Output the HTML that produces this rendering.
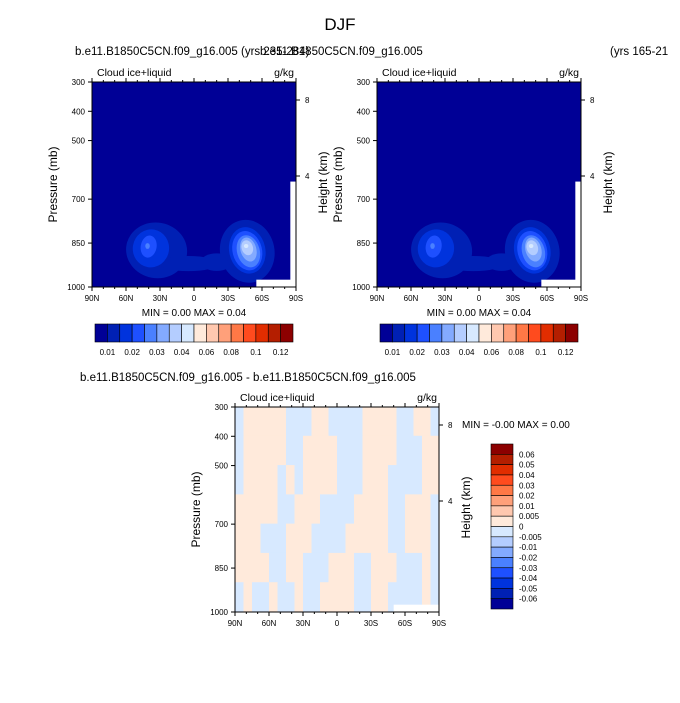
<!DOCTYPE html>
<html><head><meta charset="utf-8"><style>
body{margin:0;background:#fff;}
svg text{font-family:"Liberation Sans",sans-serif;fill:#000;}
</style></head><body>
<svg id="s" width="680" height="698" xmlns="http://www.w3.org/2000/svg">
<text x="340" y="30" font-size="17" text-anchor="middle">DJF</text>
</svg>
<script>
const fills=["#000096","#0020b4","#0033dd","#1e50ff","#4a80ff","#83aaff","#b4cdff","#d7e9ff","#ffeadb","#ffc8af","#ffa07a","#ff7846","#ff4b1e","#e12d00","#b41e00","#8c0000"];
const topLevels=["0.01","0.02","0.03","0.04","0.06","0.08","0.1","0.12"];
const diffLevels=["0.06","0.05","0.04","0.03","0.02","0.01","0.005","0","-0.005","-0.01","-0.02","-0.03","-0.04","-0.05","-0.06"];
const pTicks=[300,400,500,700,850,1000];
const latTicks=[90,60,30,0,-30,-60,-90];
const latLabels=["90N","60N","30N","0","30S","60S","90S"];
// blob contours: level index, center lat, center pressure, radius lat (deg), radius pressure (mb), tilt
const blobLevel=[1,1,1,2,3,4,1,1,2,3,4,5,6,7];
const blobLat=[33,5,-20,38,40,41,-47,-47,-47,-47,-48,-48,-47,-46];
const blobP=[875,920,915,868,862,860,878,878,875,876,878,872,866,860];
const blobRLat=[27,26,14,16,7,2,24,19,16,13,10,7,5,2];
const blobRP=[95,26,30,65,38,10,108,92,80,68,56,42,26,7];
const blobTilt=[10,0,0,10,10,0,-12,-12,-12,-14,-16,-16,-18,0];
// difference sign grid: rows = pressure bands, cols = 24 lat bins (90N->90S), p = positive, b = negative
const diffP=[300,400,500,600,700,800,900,1000];
const diffRows=["bpppppbbbppbbbbppppbbppb","bpppppbbppppbbbppppbbbpp","bppppbpbppppbbbpppbbbbpp","pppppbbpppbbbbppppbbpppb","pppbbbpppbbbbpppppbbpppb","ppppbbppbbbpppbbpppbbbpb","bpbbpbbpbbppppbbppbbbbpb"];
const NS="http://www.w3.org/2000/svg";
const svg=document.getElementById('s');
function mk(t,a,p){const e=document.createElementNS(NS,t);for(const k in a)e.setAttribute(k,a[k]);(p||svg).appendChild(e);return e;}
function txt(x,y,s,sz,anc,p){const e=mk('text',{x:x,y:y,'font-size':sz,'text-anchor':anc||'start'},p);e.textContent=s;return e;}
function panel(ox,oy,kind,name){
  const W=204,H=205;
  const g=mk('g',{});
  
  
  const xs=lat=>ox+(90-lat)/180*W;
  const ys=p=>oy+(p-300)/700*H;
  if(kind==='top'){
    mk('rect',{x:ox,y:oy,width:W,height:H,fill:fills[0]},g);
    for(let i=0;i<blobLevel.length;i++){
      const cx=xs(blobLat[i]),cy=ys(blobP[i]);
      const e=mk('ellipse',{cx:cx,cy:cy,rx:blobRLat[i]/180*W,ry:blobRP[i]/700*H,fill:fills[blobLevel[i]],transform:`rotate(${blobTilt[i]} ${cx} ${cy})`},g);
      
      
    }
    mk('rect',{x:xs(-55),y:ys(975),width:xs(-90)-xs(-55),height:ys(1000)-ys(975)+1,fill:'#fff'},g);
    mk('rect',{x:xs(-85),y:ys(640),width:xs(-90)-xs(-85),height:ys(1000)-ys(640),fill:'#fff'},g);
  } else {
    for(let r=0;r<diffRows.length;r++)for(let c=0;c<24;c++){
      const l0=90-c*7.5;
      const e=mk('rect',{x:xs(l0),y:ys(diffP[r])-0.5,width:W/24+0.5,height:ys(diffP[r+1])-ys(diffP[r])+1,fill:diffRows[r][c]==='p'?'#ffeadb':'#d7e9ff'},g);
      
      
    }
    mk('rect',{x:xs(-50),y:ys(975),width:xs(-90)-xs(-50),height:ys(1000)-ys(975),fill:'#fff'},g);
  }
  mk('rect',{x:ox,y:oy,width:W,height:H,fill:'none',stroke:'#000','stroke-width':1},g);
  pTicks.forEach(p=>{mk('line',{x1:ox-4,x2:ox,y1:ys(p),y2:ys(p),stroke:'#000'},g);txt(ox-7,ys(p)+3,String(p),8,'end',g);});
  latTicks.forEach((l,i)=>{mk('line',{x1:xs(l),x2:xs(l),y1:oy+H,y2:oy+H+4,stroke:'#000'},g);mk('line',{x1:xs(l),x2:xs(l),y1:oy,y2:oy-4,stroke:'#000'},g);txt(xs(l),oy+H+14,latLabels[i],8,'middle',g);});
  for(let l=80;l>-90;l-=10){mk('line',{x1:xs(l),x2:xs(l),y1:oy+H,y2:oy+H+2,stroke:'#000'},g);mk('line',{x1:xs(l),x2:xs(l),y1:oy,y2:oy-2,stroke:'#000'},g);}
  [[8,oy+18],[4,oy+94]].forEach(h=>{mk('line',{x1:ox+W,x2:ox+W+4,y1:h[1],y2:h[1],stroke:'#000'},g);txt(ox+W+9,h[1]+3,String(h[0]),8,'start',g);});
  txt(ox+5,oy-6,'Cloud ice+liquid',10.5,'start',g);
  txt(ox+W-2,oy-6,'g/kg',10.5,'end',g);
  const yl=txt(0,0,'Pressure (mb)',12,'middle',g);yl.setAttribute('transform',`translate(${ox-35},${oy+H/2}) rotate(-90)`);
  const yr=txt(0,0,'Height (km)',12,'middle',g);yr.setAttribute('transform',`translate(${ox+W+31},${oy+H/2-2}) rotate(-90)`);
}
panel(92,82,'top','panel-case1');
panel(377,82,'top','panel-case2');
panel(235,407,'diff','panel-difference');
txt(75,55,'b.e11.B1850C5CN.f09_g16.005 (yrs 235-284)',11.5,'start');
txt(260,55,'b.e11.B1850C5CN.f09_g16.005',11.5,'start');
txt(610,55,'(yrs 165-21',11.5,'start');
txt(80,381,'b.e11.B1850C5CN.f09_g16.005 - b.e11.B1850C5CN.f09_g16.005',11.5,'start');
[92,377].forEach(ox=>{txt(ox+102,316,'MIN =   0.00  MAX =   0.04',10,'middle');});
txt(462,428,'MIN =  -0.00  MAX =   0.00',10,'start');
// horizontal colorbars
[95,380].forEach((ox,k)=>{
  const g=mk('g',{});
  
  
  const bw=198/16;
  for(let i=0;i<16;i++){
    mk('rect',{x:ox+i*bw,y:324,width:bw,height:18,fill:fills[i],stroke:'#000','stroke-width':0.6},g);
  }
  topLevels.forEach((s,i)=>txt(ox+(2*i+1)*bw,355,s,8,'middle',g));
});
// vertical colorbar
{
  const g=mk('g',{});
  
  
  const bh=165/16;
  for(let i=0;i<16;i++){mk('rect',{x:491,y:444+i*bh,width:22,height:bh,fill:fills[15-i],stroke:'#000','stroke-width':0.6},g);}
  diffLevels.forEach((s,i)=>txt(519,444+(i+1)*bh+3,s,8,'start',g));
}
</script>
</body></html>
